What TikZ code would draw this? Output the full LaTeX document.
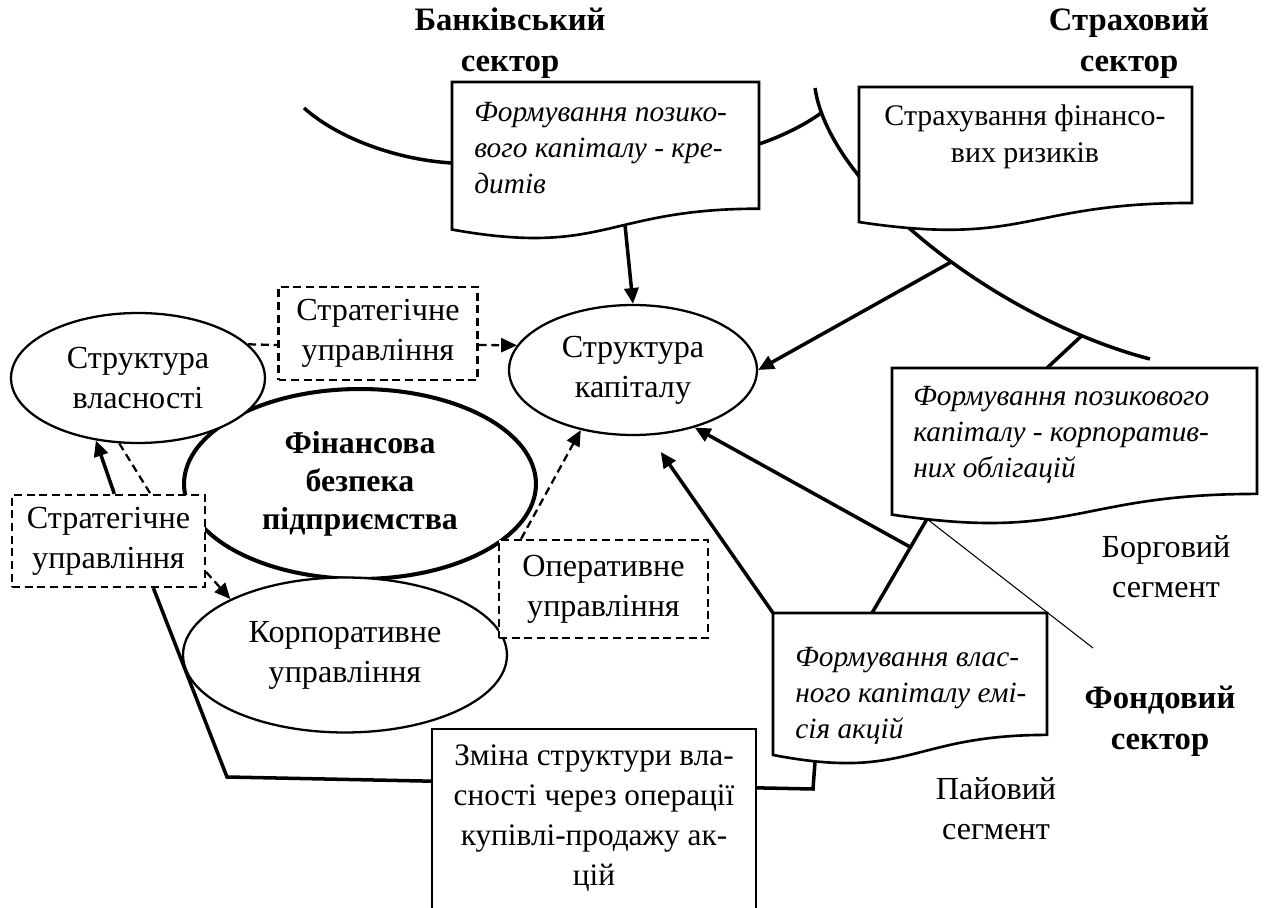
\documentclass[tikz,border=0pt]{standalone}
\usepackage{fontspec}
\setmainfont{Liberation Serif}
\usetikzlibrary{arrows.meta,shapes.geometric,calc}

% document box with wavy bottom: x0, y0, width, height
\newcommand{\docshape}[4]{%
  \draw[docline] (#1,#2) -- ({#1+#3},#2) -- ({#1+#3},{#2+0.802*#4})
    .. controls ({#1+#3/2},{#2+0.802*#4}) and ({#1+#3/2},{#2+1.1075*#4}) .. (#1,{#2+0.934*#4}) -- cycle;}

\begin{document}
\begin{tikzpicture}[x=0.02cm, y=-0.02cm,
    txt/.style={font=\fontsize{18.3}{22.8}\selectfont, align=center, inner sep=0pt},
    ttl/.style={txt, font=\fontsize{18.6}{23.2}\selectfont\bfseries},
    ital/.style={txt, align=left, anchor=west, font=\fontsize{16.7}{20.6}\selectfont\itshape},
    ell/.style={txt, draw, ellipse, line width=1.3pt, fill=white},
    dbox/.style={txt, draw, dash pattern=on 4.5pt off 2.7pt, line width=1.3pt, fill=white},
    dline/.style={line width=1.3pt, dash pattern=on 4.5pt off 2.7pt},
    docline/.style={line width=1.5pt, fill=white},
    arc/.style={line width=2pt},
    arr/.style={line width=2pt, -{Triangle[length=9pt,width=8pt]}},
    darr/.style={dline, -{Triangle[length=9pt,width=8pt]}}]
            \useasboundingbox (0,0) rectangle (1265,908);

            % sector arcs
            \draw[arc] (304,108) .. controls (340,140) and (400,160) .. (452,163);
            \draw[arc] (759,144) .. controls (780,137) and (805,125) .. (821,113);
            \draw[arc] (815,88) .. controls (830,190) and (1000,320) .. (1150,359)
                coordinate[pos=0.55] (insA) coordinate[pos=0.85] (insB);

            \docshape{452}{82}{307}{158}
            \docshape{859}{87}{333}{144.6}
            \docshape{892}{368}{365}{157}
            \docshape{773}{613}{274}{152}

            \node[ttl] (banktitle) at (510,43) {Банківський\\сектор};
            \node[ttl] (institle) at (1129,43) {Страховий\\сектор};
            \node[ttl] (fondtitle) at (1160,721) {Фондовий\\сектор};
            \node[txt] (debtseg) at (1166,567) {Борговий\\сегмент};
            \node[txt] (shareseg) at (996,809) {Пайовий\\сегмент};

            \node[ital] (bank) at (474,148) {Формування позико-\\вого капіталу - кре-\\дитів};
            \node[txt, font=\fontsize{17}{21.2}\selectfont] (insur) at (1025,137) {Страхування фінансо-\\вих ризиків};
            \node[ital] (bond) at (913,435) {Формування позикового\\капіталу - корпоратив-\\них облігацій};
            \node[ital] (equity) at (795,696) {Формування влас-\\ного капіталу емі-\\сія акцій};

            \node[ell, line width=2.3pt, minimum width=7.04cm, minimum height=3.8cm,
                font=\fontsize{18.1}{21.5}\selectfont\bfseries] (fin) at (360,484) {Фінансова\\безпека\\підприємства};
            \node[ell, minimum width=5.08cm, minimum height=2.6cm] (own) at (138,378) {Структура\\власності};
            \node[ell, minimum width=4.96cm, minimum height=2.6cm] (cap) at (633,370) {Структура\\капіталу};
            \node[ell, minimum width=6.48cm, minimum height=3.1cm] (corp) at (345,655) {Корпоративне\\управління};

            \node[dbox, minimum width=3.98cm, minimum height=1.86cm] (strat1) at (378,333.5) {Стратегічне\\управління};
            \node[dbox, minimum width=3.86cm, minimum height=1.84cm] (strat2) at (108.5,541) {Стратегічне\\управління};
            \node[dbox, minimum width=4.18cm, minimum height=1.96cm] (oper) at (603.5,589) {Оперативне\\управління};

            \coordinate (bankbot) at (625,225);
            \coordinate (bondtop) at (1047,368);
            \coordinate (bondbot) at (927,519);
            \coordinate (eqtop) at (872,613);
            \coordinate (eqcorner) at (773,613);
            \coordinate (eqbot) at (815,762);
            \coordinate (bendL) at (227,777);
            \coordinate (bendR) at (813,789);
            \coordinate (thinend) at (1093,648);

            \draw[arc] ($(strat2.south west)!0.73!(strat2.south east)$) -- (bendL) -- (bendR) -- (eqbot);
            \draw[line width=0.8pt, fill=white] (432,915) -- (432,729) -- (756,729) -- (756,915);
            \node[txt, font=\fontsize{17.8}{22.8}\selectfont] (change) at (594,818) {Зміна структури вла-\\сності через операції\\купівлі-продажу ак-\\цій};

            \draw[arr] (bankbot) -- (cap.north);
            \draw[arr] (insA) -- (cap.east);
            \draw[arc] (insB) -- (bondtop);
            \draw[arc] (bondbot) -- (eqtop) coordinate[pos=0.3] (bondmid);
            \draw[arr] (bondmid) -- (cap.-43);
            \draw[arr, shorten >=0.4cm] (eqcorner) -- (cap.-76);
            \draw[line width=0.6pt] (bondbot) -- (thinend);

            \draw[darr] ($(oper.north west)!0.11!(oper.north east)$) -- (cap.-131);
            \draw[darr] ([yshift=-0.23cm]strat1.east) -- (cap.168);
            \draw[dline] (own.17) -- ([yshift=-0.23cm]strat1.west);
            \draw[arr] ($(strat2.north west)!0.53!(strat2.north east)$) -- (own.-124);
            \draw[dline] (own.-106) -- ($(strat2.north west)!0.715!(strat2.north east)$);
            \draw[darr] ([yshift=-0.62cm]strat2.east) -- (corp.154);
\end{tikzpicture}
\end{document}
